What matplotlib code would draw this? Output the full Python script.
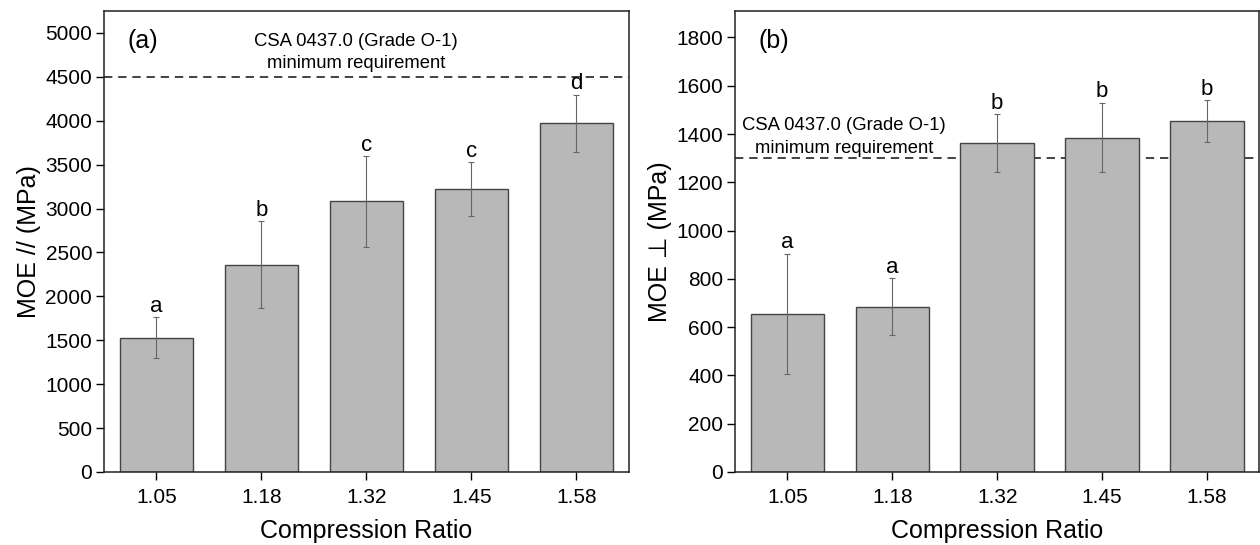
import numpy as np
import matplotlib
matplotlib.use("Agg")
import matplotlib.pyplot as plt

plt.rcParams['font.family'] = ['Liberation Sans', 'DejaVu Sans']

# compression ratios (categories)
ratios = ["1.05", "1.18", "1.32", "1.45", "1.58"]

# MOE parallel to grain
moe_par = [1530, 2360, 3080, 3220, 3970]
moe_par_sd = [230, 495, 515, 305, 325]
moe_par_grp = ["a", "b", "c", "c", "d"]
req_par = 4500

# MOE perpendicular to grain
moe_perp = [655, 685, 1362, 1385, 1453]
moe_perp_sd = [250, 118, 120, 144, 87]
moe_perp_grp = ["a", "a", "b", "b", "b"]
req_perp = 1300


def bar_panel(ax, vals, sd, groups, req, ylim, yticks, ylabel, tag):
    x = np.arange(len(ratios))
    ax.bar(x, vals, width=0.70, color="#b8b8b8", edgecolor="#444444",
           linewidth=1.0, zorder=2)
    ax.errorbar(x, vals, yerr=sd, fmt="none", ecolor="#666666",
                elinewidth=0.8, capsize=2.5, capthick=0.8, zorder=3)
    for xi, v, s, g in zip(x, vals, sd, groups):
        ax.text(xi, v + s + ylim[1] * 0.001, g, ha="center", va="bottom",
                fontsize=16)
    ax.axhline(req, color="#222222", linestyle=(0, (5, 3.5)), linewidth=1.2,
               zorder=1)
    ax.set_xlim(-0.5, 4.5)
    ax.set_ylim(*ylim)
    ax.set_xticks(x)
    ax.set_xticklabels(ratios)
    ax.set_yticks(yticks)
    ax.tick_params(axis="both", labelsize=15, direction="out", length=5.5,
                   width=1.0, pad=3)
    ax.tick_params(axis="x", pad=6)
    ax.set_xlabel("Compression Ratio", fontsize=18, labelpad=9)
    ax.set_ylabel(ylabel, fontsize=18, labelpad=3)
    for sp in ax.spines.values():
        sp.set_linewidth(1.1)
        sp.set_color("#222222")
    ax.text(0.045, 0.96, tag, transform=ax.transAxes, fontsize=18,
            ha="left", va="top")


fig = plt.figure(figsize=(12.6, 5.45), dpi=100)
ax1 = fig.add_axes([0.0825, 0.134, 0.4167, 0.846])
ax2 = fig.add_axes([0.5833, 0.134, 0.4162, 0.846])

bar_panel(ax1, moe_par, moe_par_sd, moe_par_grp, req_par, (0, 5250),
          np.arange(0, 5001, 500), "MOE // (MPa)", "(a)")
ax1.text(1.9, 4550, "CSA 0437.0 (Grade O-1)\nminimum requirement",
         ha="center", va="bottom", fontsize=13.3, linespacing=1.45)

bar_panel(ax2, moe_perp, moe_perp_sd, moe_perp_grp, req_perp, (0, 1910),
          np.arange(0, 1801, 200), "MOE \u22a5 (MPa)", "(b)")
ax2.text(0.54, 1306, "CSA 0437.0 (Grade O-1)\nminimum requirement",
         ha="center", va="bottom", fontsize=13.3, linespacing=1.45)

fig.savefig("out.png", dpi=100)
